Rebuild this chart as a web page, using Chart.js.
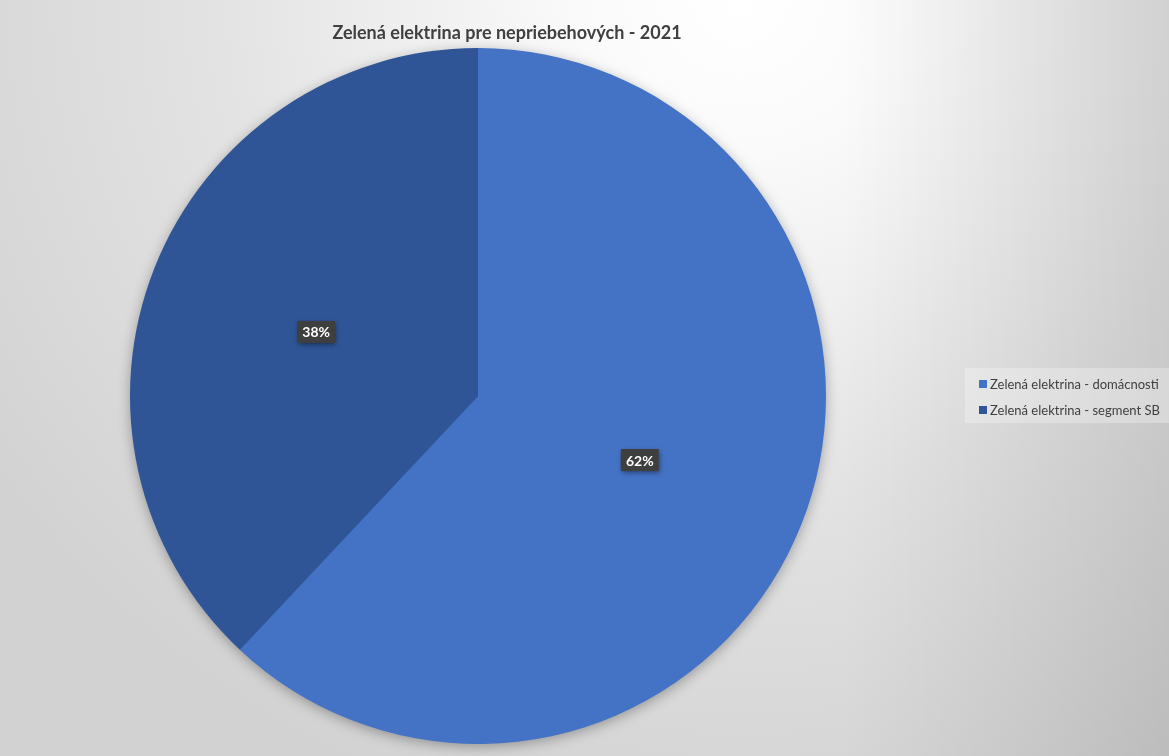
<!DOCTYPE html>
<html>
<head>
<meta charset="utf-8">
<script src="https://cdn.jsdelivr.net/npm/chart.js@4/dist/chart.umd.min.js"></script>
<style>
html,body{margin:0;padding:0;}
body{
  width:1169px;height:756px;overflow:hidden;position:relative;
  background:
    linear-gradient(to right, rgba(0,0,0,0) 72%, rgba(0,0,0,0.1) 100%),
    radial-gradient(ellipse 900px 850px at 740px 0px, #ffffff 0%, #fafafa 18%, #e3e3e3 58%, #d2d2d2 100%);
}
#wrap{position:absolute;left:0;top:0;width:1169px;height:756px;}
#title{position:absolute;top:22px;left:0;width:1014px;text-align:center;
  font-family:Lato, 'Open Sans', sans-serif;font-weight:bold;font-size:18px;line-height:20px;color:#404040;}
#legend{position:absolute;left:965px;top:368px;width:204px;height:55px;
  background:rgba(255,255,255,0.28);}
.li{position:absolute;left:14px;height:16px;font-family:Lato, 'Open Sans', sans-serif;font-size:13px;line-height:16px;color:#404040;white-space:nowrap;}
.li span.m{position:absolute;left:0;top:4px;width:8px;height:8px;}
.li span.t{position:absolute;left:11px;top:0;}
</style>
</head>
<body>
<div id="wrap"><canvas id="c" width="1169" height="756"></canvas></div>
<div id="title"></div>
<div id="legend"></div>
<script>
const chartTitle = 'Zelená elektrina pre nepriebehových - 2021';
const categories = ['Zelená elektrina - domácnosti', 'Zelená elektrina - segment SB'];
const values = [62, 38];
const colors = ['#4472C4', '#2F5597'];

document.getElementById('title').textContent = chartTitle;
const leg = document.getElementById('legend');
categories.forEach((c, i) => {
  const d = document.createElement('div');
  d.className = 'li';
  d.style.top = (8 + i * 26) + 'px';
  const m = document.createElement('span'); m.className = 'm'; m.style.background = colors[i];
  const t = document.createElement('span'); t.className = 't'; t.textContent = c;
  d.appendChild(m); d.appendChild(t);
  leg.appendChild(d);
});

const shadowPlugin = {
  id: 'pieShadow',
  beforeDatasetsDraw(chart) {
    const arc = chart.getDatasetMeta(0).data[0];
    if (!arc) return;
    const ctx = chart.ctx;
    ctx.save();
    ctx.shadowColor = 'rgba(0,0,0,0.35)';
    ctx.shadowBlur = 14;
    ctx.shadowOffsetX = 0;
    ctx.shadowOffsetY = 3;
    ctx.fillStyle = colors[1];
    ctx.beginPath();
    ctx.arc(arc.x, arc.y, arc.outerRadius - 1, 0, Math.PI * 2);
    ctx.fill();
    ctx.restore();
  }
};

const labelPlugin = {
  id: 'pctLabels',
  afterDatasetsDraw(chart) {
    const ctx = chart.ctx;
    const meta = chart.getDatasetMeta(0);
    const total = values.reduce((a, b) => a + b, 0);
    meta.data.forEach((arc, i) => {
      const mid = (arc.startAngle + arc.endAngle) / 2;
      const r = arc.outerRadius * 0.5;
      const x = arc.x + Math.cos(mid) * r;
      const y = arc.y + Math.sin(mid) * r;
      const txt = Math.round(values[i] / total * 100) + '%';
      ctx.save();
      ctx.font = 'bold 14px Lato, "Open Sans", sans-serif';
      const w = 38;
      const h = 22;
      ctx.shadowColor = 'rgba(0,0,0,0.45)';
      ctx.shadowBlur = 5;
      ctx.shadowOffsetX = 1;
      ctx.shadowOffsetY = 2;
      ctx.fillStyle = '#3f3f3f';
      ctx.fillRect(x - w / 2, y - h / 2, w, h);
      ctx.shadowColor = 'transparent';
      ctx.fillStyle = '#ffffff';
      ctx.textAlign = 'center';
      ctx.textBaseline = 'middle';
      ctx.fillText(txt, x, y + 1);
      ctx.restore();
    });
  }
};

new Chart(document.getElementById('c'), {
  type: 'pie',
  data: {
    labels: categories,
    datasets: [{
      data: values,
      backgroundColor: colors,
      borderWidth: 0
    }]
  },
  options: {
    responsive: false,
    animation: false,
    layout: { padding: { left: 130, right: 343, top: 48, bottom: 12 } },
    plugins: {
      legend: { display: false },
      title: { display: false },
      tooltip: { enabled: false }
    }
  },
  plugins: [shadowPlugin, labelPlugin]
});
</script>
</body>
</html>
